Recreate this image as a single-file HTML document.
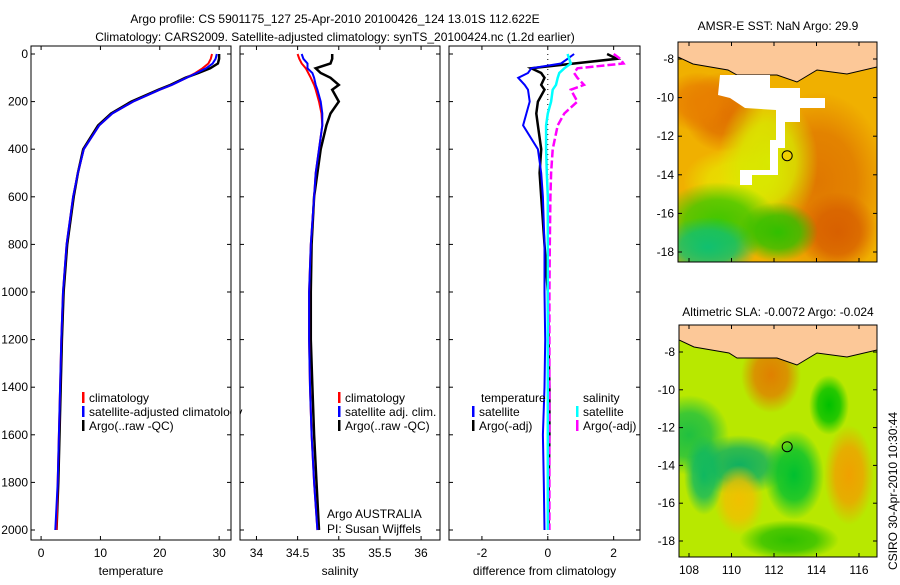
<!DOCTYPE html>
<html><head><meta charset="utf-8">
<style>
body{margin:0;background:#fff;width:900px;height:580px;overflow:hidden}
svg text{font-family:"Liberation Sans",sans-serif;font-size:12px;fill:#000}
</style></head>
<body>
<svg id="fig" width="900" height="580" xmlns="http://www.w3.org/2000/svg">
<text x="335" y="23" text-anchor="middle" font-size="13">Argo profile: CS 5901175_127 25-Apr-2010 20100426_124 13.01S 112.622E</text>
<text x="335" y="41" text-anchor="middle" font-size="13">Climatology: CARS2009. Satellite-adjusted climatology: synTS_20100424.nc (1.2d earlier)</text>
<text x="778" y="30" text-anchor="middle">AMSR-E SST: NaN Argo: 29.9</text>
<text x="778" y="316" text-anchor="middle">Altimetric SLA: -0.0072 Argo: -0.024</text>
<text transform="translate(897,570) rotate(-90)">CSIRO 30-Apr-2010 10:30:44</text>
<g id="plots"></g>
</svg>
<script>
// ---- data ----
const depthTicks=[0,200,400,600,800,1000,1200,1400,1600,1800,2000];
const tempTicks=[0,10,20,30];
const salTicks=[34,34.5,35,35.5,36];
const diffTicks=[-2,0,2];
const latTicks=[-8,-10,-12,-14,-16,-18];
const lonTicks=[108,110,112,114,116];
const depths=[0,20,40,60,80,100,130,150,200,250,300,400,500,600,800,1000,1200,1400,1600,1800,2000];
const tempClim=[28.8,28.6,28.2,27.2,26,24.5,22,20,15.5,12,9.8,7.2,6.2,5.4,4.3,3.7,3.4,3.2,3.0,2.8,2.6];
const tempSat =[29.6,29.4,28.9,27.8,26.2,24.5,22,20,15.5,12,9.8,7.2,6.2,5.4,4.3,3.7,3.4,3.2,3.0,2.8,2.4];
const tempArgo=[30.0,30.0,29.8,28.5,26.5,24.3,21.8,19.8,15.2,11.8,9.6,7.1,6.2,5.5,4.4,3.8,3.5,3.3,3.1,2.9,2.6];
const salClim=[34.5,34.52,34.55,34.6,34.63,34.66,34.7,34.72,34.76,34.79,34.8,34.76,34.72,34.7,34.66,34.64,34.64,34.65,34.67,34.7,34.74];
const salSat =[34.55,34.57,34.62,34.62,34.68,34.7,34.72,34.74,34.78,34.8,34.8,34.76,34.72,34.7,34.66,34.64,34.64,34.65,34.67,34.7,34.74];
const salArgo=[34.92,34.92,34.9,34.72,34.78,34.9,35.0,34.92,35.0,34.9,34.85,34.78,34.74,34.7,34.67,34.66,34.66,34.68,34.7,34.73,34.76];
const dTsat =[0.8,0.6,0.4,-0.5,-0.6,-0.9,-0.7,-0.6,-0.55,-0.65,-0.75,-0.3,-0.2,-0.15,-0.1,-0.1,-0.08,-0.1,-0.15,-0.12,-0.1];
const dTargo=[1.8,2.1,0.8,-0.5,-0.2,-0.1,-0.2,-0.1,-0.3,-0.35,-0.3,-0.2,-0.25,-0.2,-0.1,0.0,0.02,0.05,0.05,0.03,0.02];
const dSsat =[0.6,0.65,0.7,0.5,0.35,0.3,0.25,0.15,0.1,0.0,-0.05,-0.05,-0.03,0.0,0.0,0.0,0.0,0.0,0.0,0.0,0.0];
const dSargo=[2.0,2.2,2.3,0.9,0.8,0.9,1.1,0.7,0.9,0.5,0.3,0.15,0.1,0.08,0.06,0.05,0.05,0.05,0.05,0.05,0.05];

const NS="http://www.w3.org/2000/svg";
const root=document.getElementById('plots');
function mk(tag,attrs,parent){const e=document.createElementNS(NS,tag);for(const k in attrs)e.setAttribute(k,attrs[k]);(parent||root).appendChild(e);return e;}
const Y0=54,Y1=530,FT=46,FB=540;
function yD(d){return Y0+(d-0)*(Y1-Y0)/2000;}

const panels=[
 {x0:31,x1:231,v0:-1.7,v1:32,ticks:tempTicks,label:'temperature',name:'temperature-panel'},
 {x0:240,x1:440,v0:33.8,v1:36.23,ticks:salTicks,label:'salinity',name:'salinity-panel'},
 {x0:449,x1:640,v0:-3,v1:2.8,ticks:diffTicks,label:'difference from climatology',name:'difference-panel'}
];
function xf(p){return v=>p.x0+(v-p.v0)*(p.x1-p.x0)/(p.v1-p.v0);}
function line(p,vals,color,name,w,dash){
  const X=xf(p);const pts=depths.map((d,i)=>X(vals[i]).toFixed(1)+','+yD(d).toFixed(1)).join(' ');
  const e=mk('polyline',{points:pts,fill:'none',stroke:color,'stroke-width':w||2});
  if(dash)e.setAttribute('stroke-dasharray',dash);
  
  
}
panels.forEach((p,pi)=>{
  const g=mk('rect',{x:p.x0,y:FT,width:p.x1-p.x0,height:FB-FT,fill:'none',stroke:'#000','stroke-width':1});
  
  
  const X=xf(p);
  p.ticks.forEach(t=>{
    const x=X(t);
    mk('line',{x1:x,x2:x,y1:FT,y2:FT+4,stroke:'#000'});
    mk('line',{x1:x,x2:x,y1:FB-4,y2:FB,stroke:'#000'});
    const tx=mk('text',{x:x,y:FB+17,'text-anchor':'middle'});tx.textContent=t;
    
    
  });
  depthTicks.forEach(d=>{
    const y=yD(d);
    mk('line',{x1:p.x0,x2:p.x0+4,y1:y,y2:y,stroke:'#000'});
    mk('line',{x1:p.x1-4,x2:p.x1,y1:y,y2:y,stroke:'#000'});
    if(pi===0){const tx=mk('text',{x:28,y:y+4,'text-anchor':'end'});tx.textContent=d;
      
      }
  });
  const lb=mk('text',{x:(p.x0+p.x1)/2,y:575,'text-anchor':'middle'});lb.textContent=p.label;
  
  
});
{const X=xf(panels[2]);mk('line',{x1:X(0),x2:X(0),y1:Y0,y2:FB,stroke:'#000','stroke-dasharray':'1,4'});}
line(panels[0],tempArgo,'#000','temp-argo-line',2.5);
line(panels[0],tempClim,'#f00','temp-climatology-line');
line(panels[0],tempSat,'#00f','temp-satellite-line');
line(panels[1],salArgo,'#000','sal-argo-line',2.5);
line(panels[1],salClim,'#f00','sal-climatology-line');
line(panels[1],salSat,'#00f','sal-satellite-line');
line(panels[2],dTargo,'#000','dtemp-argo-line',2.5);
line(panels[2],dTsat,'#00f','dtemp-satellite-line');
line(panels[2],dSargo,'#f0f','dsal-argo-line',2.5,'8,3');
line(panels[2],dSsat,'#0ff','dsal-satellite-line',2.5);

function legend(x,y,color,text,name){
  mk('rect',{x:x,y:y-10,width:2.5,height:11,fill:color});
  const t=mk('text',{x:x+7,y:y});t.textContent=text;
  
  
}
legend(82,402,'#f00','climatology','legend-climatology');
legend(82,416,'#00f','satellite-adjusted climatology','legend-satellite-adjusted');
legend(82,430,'#000','Argo(..raw -QC)','legend-argo');
legend(338,402,'#f00','climatology','legend-sal-climatology');
legend(338,416,'#00f','satellite adj. clim.','legend-sal-satellite');
legend(338,430,'#000','Argo(..raw -QC)','legend-sal-argo');
{const t=mk('text',{x:481,y:402});t.textContent='temperature';
 const s=mk('text',{x:583,y:402});s.textContent='salinity';}
legend(472,416,'#00f','satellite','legend-dtemp-satellite');
legend(472,430,'#000','Argo(-adj)','legend-dtemp-argo');
legend(576,416,'#0ff','satellite','legend-dsal-satellite');
legend(576,430,'#f0f','Argo(-adj)','legend-dsal-argo');
{const a=mk('text',{x:327,y:518});a.textContent='Argo AUSTRALIA';
 const b=mk('text',{x:327,y:533});b.textContent='PI: Susan Wijffels';}
mk('rect',{x:231.5,y:405,width:8,height:15,fill:'#fff'});
mk('line',{x1:240,x2:240,y1:FT,y2:FB,stroke:'#000'});

// ---- maps ----
function map(x0,y0,x1,y1,lat8y,lat18y,name,blobs,base){
  const g=mk('g',{});
  
  
  const id=name+'-clip';
  const cp=mk('clipPath',{id:id},g);mk('rect',{x:x0,y:y0,width:x1-x0,height:y1-y0},cp);
  const inner=mk('g',{'clip-path':'url(#'+id+')'},g);
  mk('rect',{x:x0,y:y0,width:x1-x0,height:y1-y0,fill:base},inner);
  blobs.forEach((b,i)=>{
    const gid=name+'-g'+i;
    const rg=mk('radialGradient',{id:gid},g);
    mk('stop',{offset:'0','stop-color':b[4],'stop-opacity':'1'},rg);
    mk('stop',{offset:'0.55','stop-color':b[4],'stop-opacity':'0.8'},rg);
    mk('stop',{offset:'1','stop-color':b[4],'stop-opacity':'0'},rg);
    mk('ellipse',{cx:x0+b[0],cy:y0+b[1],rx:b[2],ry:b[3],fill:'url(#'+gid+')'},inner);
  });
  mk('path',{d:`M${x0} ${y0} L${x1} ${y0} L${x1} ${y0+25} L${x1-30} ${y0+32} L${x1-60} ${y0+28} L${x1-80} ${y0+40} L${x1-100} ${y0+33} L${x1-140} ${y0+33} L${x0+50} ${y0+28} L${x0+15} ${y0+22} L${x0} ${y0+15} Z`,fill:'#fcc898',stroke:'#000','stroke-width':1},inner);
  mk('rect',{x:x0,y:y0,width:x1-x0,height:y1-y0,fill:'none',stroke:'#000'},g);
  const ys=v=>lat8y+(v+8)*(lat18y-lat8y)/-10;
  latTicks.forEach(v=>{const y=ys(v);mk('line',{x1:x0,x2:x0+4,y1:y,y2:y,stroke:'#000'},g);mk('line',{x1:x1-4,x2:x1,y1:y,y2:y,stroke:'#000'},g);
    const t=mk('text',{x:x0-4,y:y+4,'text-anchor':'end'},g);t.textContent=v;});
  const xs=v=>689+(v-108)*(859-689)/8;
  lonTicks.forEach(v=>{const x=xs(v);mk('line',{x1:x,x2:x,y1:y0,y2:y0+4,stroke:'#000'},g);mk('line',{x1:x,x2:x,y1:y1-4,y2:y1,stroke:'#000'},g);
    if(y1>400){const t=mk('text',{x:x,y:y1+17,'text-anchor':'middle'},g);t.textContent=v;}});
  mk('circle',{cx:xs(112.62),cy:ys(-13.01),r:5,fill:y1>400?'none':'#f0d000',stroke:'#000'},g);
}
map(678,42,877,262,59,252,'sst-map',[
 [45,70,40,40,'#e07000'],[20,60,35,30,'#e88000'],[140,140,70,90,'#e07800'],[160,190,40,40,'#d86000'],
 [60,140,55,35,'#e8e000'],[90,120,50,70,'#d8e800'],[40,180,60,40,'#40c800'],[30,205,50,30,'#10c070'],[100,190,40,30,'#30c000']
],'#f0b000');
{const w=mk('path',{d:'M720 75 L770 75 L770 88 L800 88 L800 98 L825 98 L825 108 L800 108 L800 122 L785 122 L785 148 L778 148 L778 175 L752 175 L752 185 L740 185 L740 170 L770 170 L770 140 L776 140 L776 110 L745 108 L730 98 L718 95 Z',fill:'#fff'});
 
 }
map(679,325,877,557,352,541,'sla-map',[
 [92,50,30,38,'#e08000'],[10,110,40,40,'#20c040'],[60,140,50,30,'#10b060'],[60,175,25,35,'#f0c000'],
 [115,150,30,45,'#00c030'],[170,150,25,50,'#f0a000'],[150,80,20,30,'#00c000'],[25,150,20,40,'#10b860'],[110,215,50,20,'#30c000']
],'#b8e800');
</script>
</body></html>
